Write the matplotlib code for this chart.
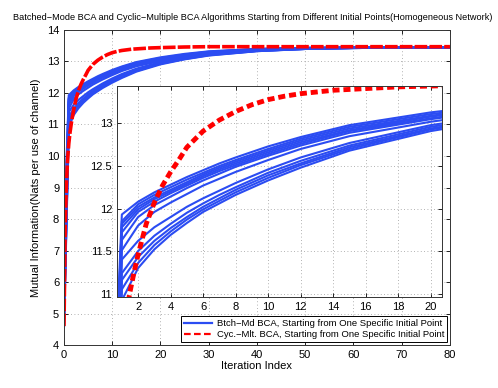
import matplotlib

matplotlib.use("Agg")
import matplotlib.pyplot as plt
from matplotlib.lines import Line2D

plt.rcParams["font.family"] = ["Liberation Sans", "DejaVu Sans"]

# ----- data -----------------------------------------------------------------

blue_x = [0, 1, 2, 3, 4, 5, 6, 7, 8, 10, 12, 15, 20, 25, 30, 40, 50, 60, 80]
blue_runs = [
    [7.4, 11.93, 12.08, 12.19, 12.28, 12.37, 12.45, 12.53, 12.60, 12.73, 12.84, 12.98, 13.13, 13.24, 13.32, 13.40, 13.43, 13.44, 13.45],
    [6.9, 11.85, 12.05, 12.16, 12.25, 12.34, 12.42, 12.50, 12.57, 12.70, 12.82, 12.96, 13.11, 13.22, 13.31, 13.39, 13.43, 13.44, 13.45],
    [7.1, 11.82, 12.02, 12.13, 12.22, 12.31, 12.40, 12.48, 12.55, 12.68, 12.80, 12.94, 13.09, 13.21, 13.30, 13.39, 13.43, 13.44, 13.45],
    [6.5, 11.78, 11.99, 12.11, 12.20, 12.29, 12.38, 12.46, 12.53, 12.66, 12.78, 12.92, 13.08, 13.20, 13.29, 13.38, 13.42, 13.44, 13.45],
    [6.0, 11.72, 11.96, 12.08, 12.18, 12.27, 12.36, 12.44, 12.51, 12.64, 12.76, 12.91, 13.06, 13.19, 13.28, 13.38, 13.42, 13.44, 13.45],
    [5.6, 11.63, 11.90, 12.04, 12.14, 12.24, 12.33, 12.41, 12.49, 12.62, 12.74, 12.89, 13.05, 13.18, 13.27, 13.37, 13.42, 13.44, 13.45],
    [5.3, 11.51, 11.80, 11.96, 12.07, 12.17, 12.27, 12.35, 12.43, 12.57, 12.70, 12.85, 13.02, 13.15, 13.25, 13.36, 13.41, 13.43, 13.45],
    [5.0, 11.40, 11.62, 11.78, 11.90, 12.02, 12.12, 12.21, 12.30, 12.46, 12.60, 12.77, 12.98, 13.12, 13.23, 13.35, 13.41, 13.43, 13.45],
    [4.8, 11.24, 11.50, 11.68, 11.82, 11.95, 12.06, 12.16, 12.25, 12.42, 12.56, 12.74, 12.96, 13.10, 13.22, 13.34, 13.40, 13.43, 13.45],
    [4.7, 11.16, 11.43, 11.62, 11.77, 11.90, 12.02, 12.12, 12.22, 12.39, 12.53, 12.72, 12.94, 13.09, 13.21, 13.34, 13.40, 13.43, 13.45],
    [4.9, 11.05, 11.36, 11.57, 11.73, 11.87, 11.99, 12.09, 12.19, 12.36, 12.51, 12.70, 12.93, 13.08, 13.20, 13.33, 13.40, 13.43, 13.45],
    [4.6, 10.92, 11.30, 11.52, 11.69, 11.83, 11.96, 12.06, 12.16, 12.33, 12.48, 12.68, 12.91, 13.07, 13.19, 13.33, 13.40, 13.43, 13.45],
]

red_x = [0, 0.25, 0.5, 0.75, 1.0, 1.25, 1.5, 1.75, 2.0, 2.5, 3, 3.5, 4, 4.5, 5, 6, 7, 8, 9, 10,
         11, 12, 13, 14, 16, 18, 20, 25, 30, 40, 50, 60, 70, 80]
red_y = [4.6, 7.8, 9.1, 9.9, 10.4, 10.75, 11.02, 11.25, 11.46, 11.82, 12.07, 12.27, 12.43, 12.57, 12.72,
         12.91, 13.04, 13.14, 13.22, 13.28, 13.32, 13.35, 13.37, 13.39, 13.41, 13.43, 13.44, 13.46, 13.47,
         13.47, 13.47, 13.47, 13.47, 13.47]

TITLE = ("Batched\u2212Mode BCA and Cyclic\u2212Multiple BCA Algorithms Starting from "
         "Different Initial Points(Homogeneous Network)")
LABELS = ["Btch\u2212Md BCA, Starting from One Specific Initial Point",
          "Cyc.\u2212Mlt. BCA, Starting from One Specific Initial Point"]

BLUE = "#2b4cf2"
RED = "#ff0000"


def _style(ax):
    ax.tick_params(direction="in", top=True, right=True, labelsize=8, length=3, width=0.6)
    ax.grid(True, ls=(0, (1, 3)), color="#999999", lw=0.6)
    for s in ax.spines.values():
        s.set_color("#333333")
        s.set_linewidth(0.7)


fig = plt.figure(figsize=(4.98, 3.88), dpi=100)

# ----- main axes ------------------------------------------------------------
ax = fig.add_axes([0.1285, 0.1108, 0.775, 0.8119])
for run in blue_runs:
    ax.plot(blue_x, run, color=BLUE, lw=1.6)
ax.plot(red_x, red_y, color=RED, lw=2.6, ls=(0, (3.5, 0.6)))
ax.set_xlim(0, 80)
ax.set_ylim(4, 14)
ax.set_xticks(range(0, 81, 10))
ax.set_yticks(range(4, 15))
ax.set_xlabel("Iteration Index", fontsize=8, labelpad=1)
ax.set_ylabel("Mutual Information(Nats per use of channel)", fontsize=8, labelpad=4)
_style(ax)

# title: long, starts near the left edge of the figure
fig.text(13 / 498, 1 - 17 / 388, TITLE, fontsize=6.6, ha="left", va="center")

handles = [Line2D([], [], color=BLUE, lw=1.6),
           Line2D([], [], color=RED, lw=1.6, ls=(0, (3, 1.5)))]
leg = ax.legend(handles, LABELS, loc="lower right", fontsize=6.8, frameon=True, fancybox=False,
                edgecolor="black", framealpha=1, borderaxespad=0.3, handlelength=3.0,
                borderpad=0.3, labelspacing=0.25, handletextpad=0.5)
leg.get_frame().set_linewidth(0.7)

# ----- inset (zoom on first 20 iterations) ----------------------------------
ins = fig.add_axes([0.2349, 0.2345, 0.6526, 0.5438])
for run in blue_runs:
    ins.plot(blue_x, run, color=BLUE, lw=1.5)
ins.plot(red_x, red_y, color=RED, lw=3.5, ls=(0, (1.45, 0.8)))
ins.set_xlim(0.7, 20.7)
ins.set_ylim(10.96, 13.44)
ins.set_xticks(range(2, 21, 2))
ins.set_yticks([11, 11.5, 12, 12.5, 13])
ins.set_yticklabels(["11", "11.5", "12", "12.5", "13"])
_style(ins)

fig.savefig("out.png", dpi=100)
